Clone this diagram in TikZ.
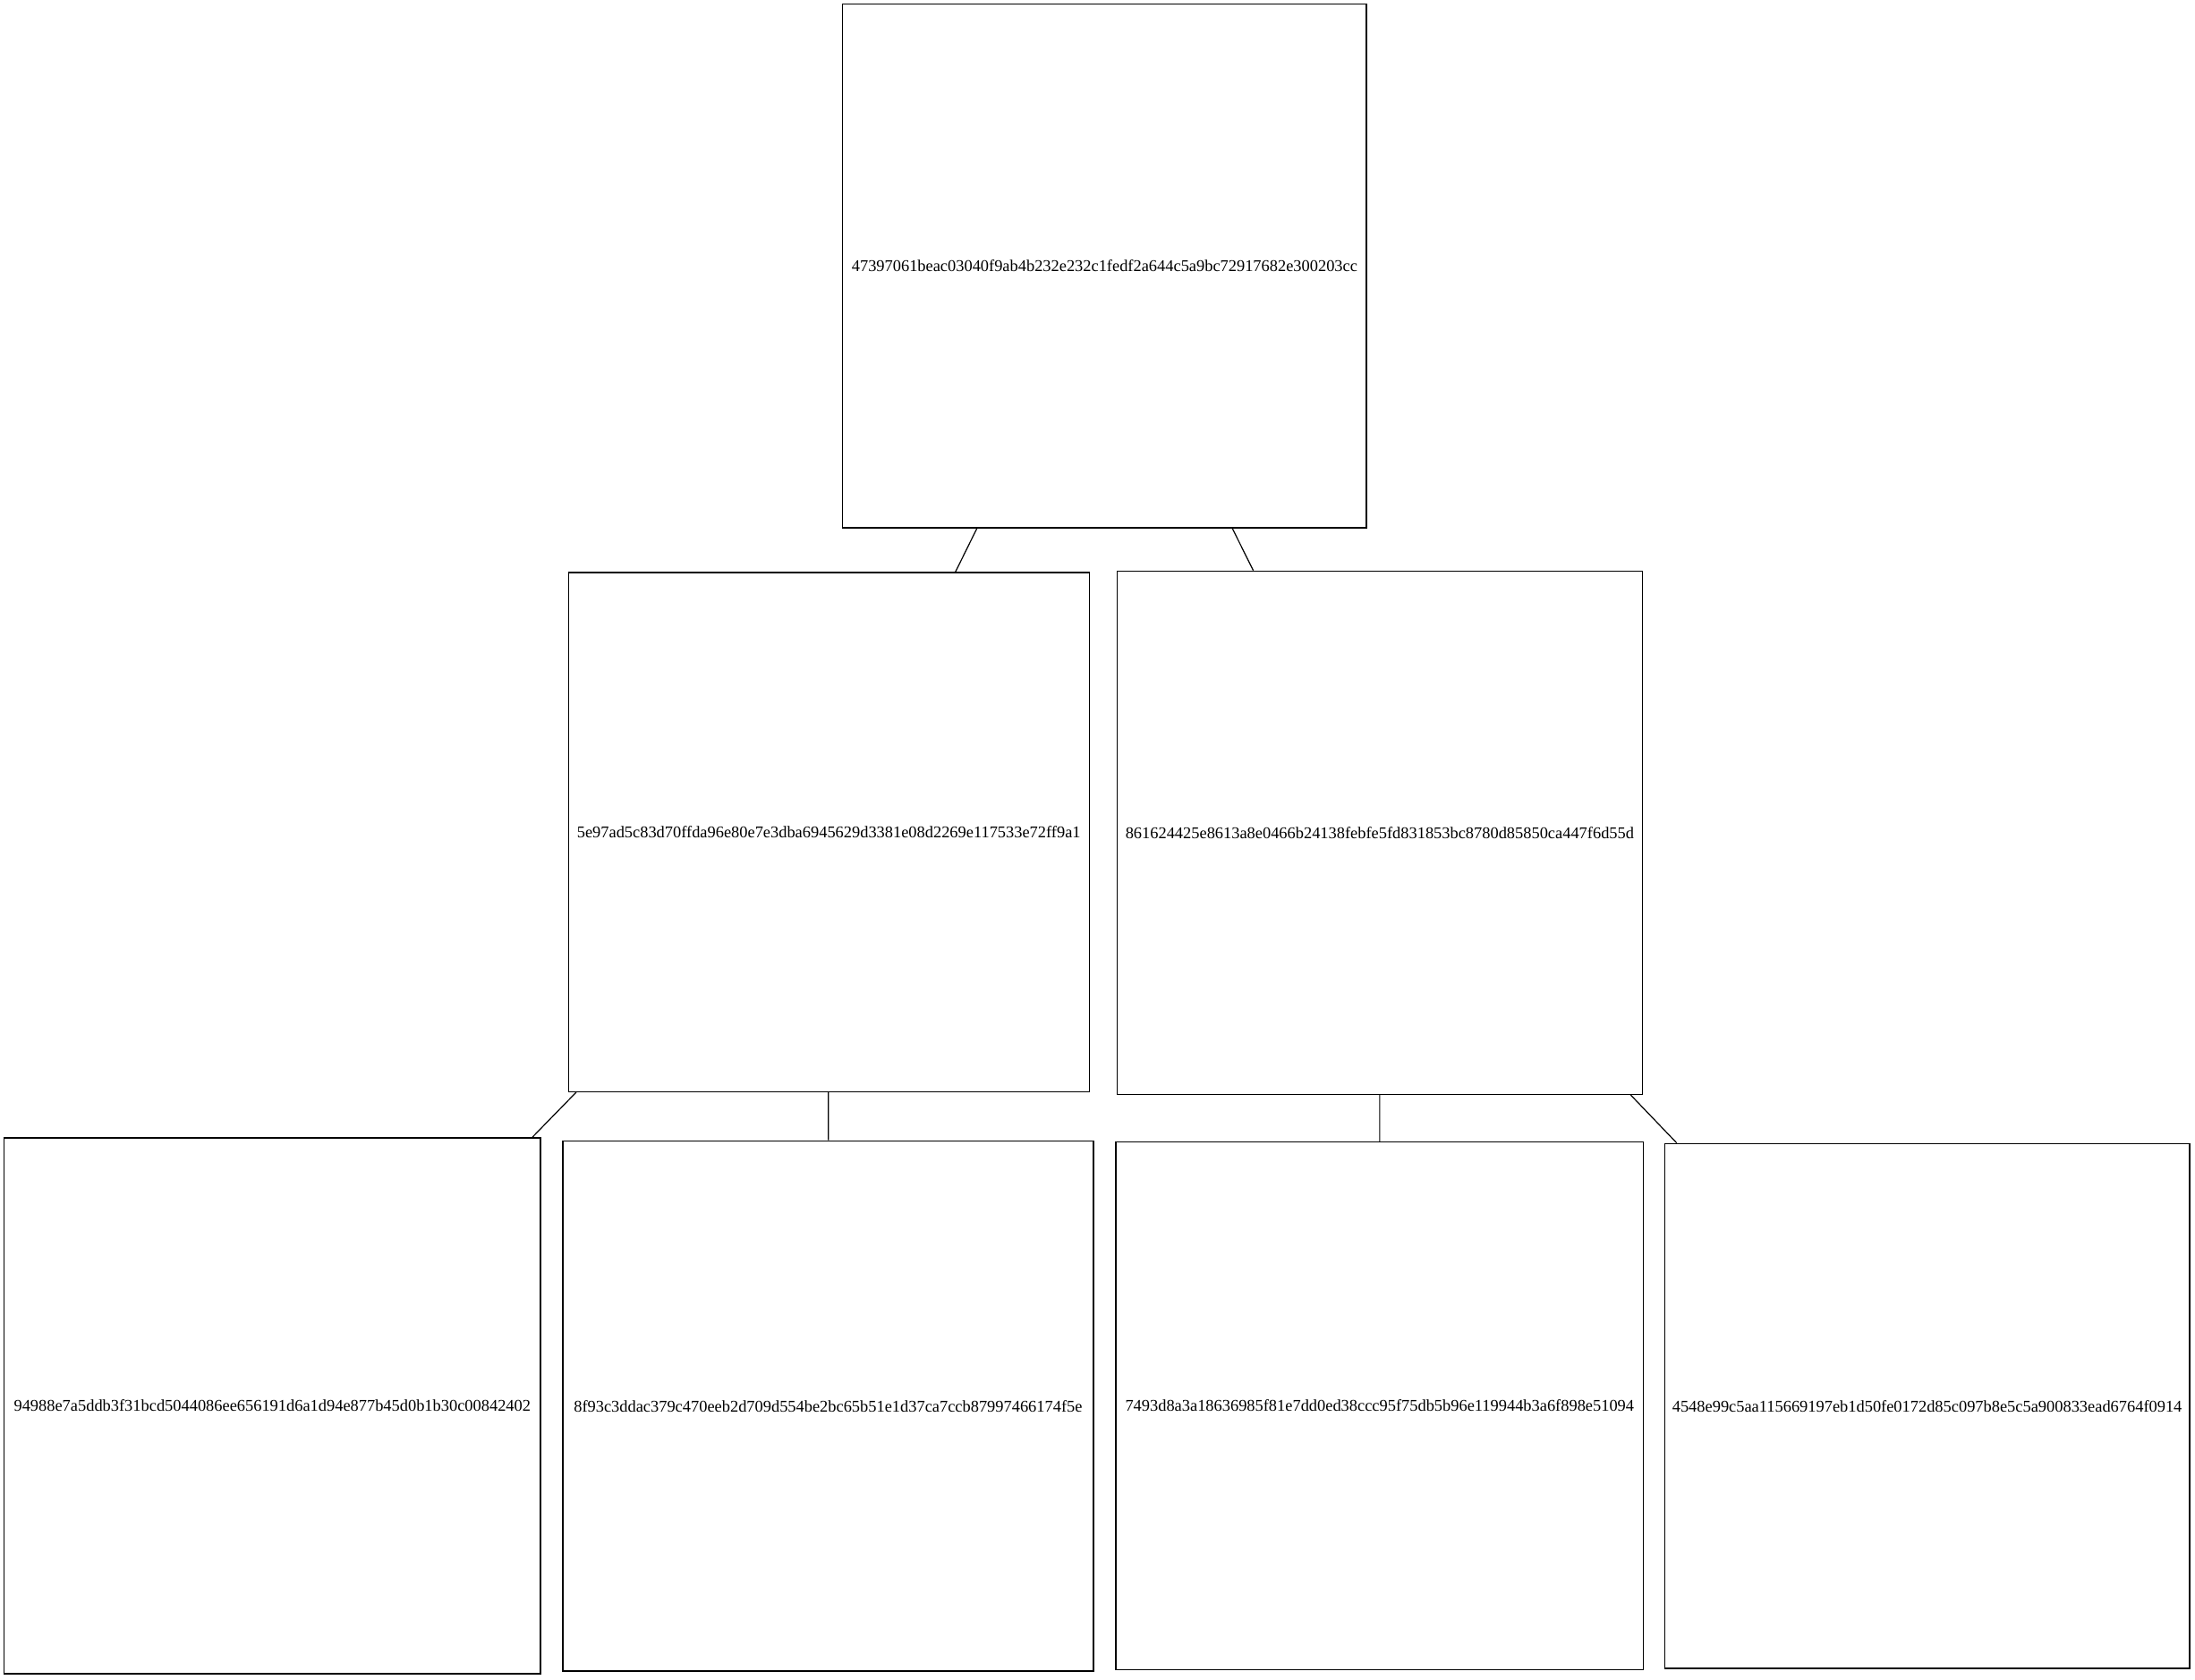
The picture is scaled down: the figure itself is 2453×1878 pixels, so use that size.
\documentclass[tikz,border=0pt]{standalone}
\usepackage{fontspec}
\setmainfont{Liberation Serif}
\begin{document}
\begin{tikzpicture}[x=0.75pt,y=-0.75pt,
  hashbox/.style 2 args={draw, line width=1pt, fill=white, inner sep=0pt,
    minimum width=#1*0.75pt, minimum height=#2*0.75pt,
    font=\fontsize{13.8}{16}\selectfont},
  link/.style={line width=0.9pt}]
\useasboundingbox[fill=white] (0,0) rectangle (2453,1878);
% tree of hashes
\node[hashbox={585.2}{585.1}] (root) at (1234.4,297.3) {47397061beac03040f9ab4b232e232c1fedf2a644c5a9bc72917682e300203cc};
\node[hashbox={582}{580.4}] (l) at (926.2,930.1) {5e97ad5c83d70ffda96e80e7e3dba6945629d3381e08d2269e117533e72ff9a1};
\node[hashbox={586.7}{585.1}] (r) at (1541.9,930.9) {861624425e8613a8e0466b24138febfe5fd831853bc8780d85850ca447f6d55d};
\node[hashbox={599.2}{599.2}] (ll) at (304.3,1571.5) {94988e7a5ddb3f31bcd5044086ee656191d6a1d94e877b45d0b1b30c00842402};
\node[hashbox={593}{592.9}] (lr) at (925.4,1571.6) {8f93c3ddac379c470eeb2d709d554be2bc65b51e1d37ca7ccb87997466174f5e};
\node[hashbox={589.8}{589.8}] (rl) at (1541.8,1571.5) {7493d8a3a18636985f81e7dd0ed38ccc95f75db5b96e119944b3a6f898e51094};
\node[hashbox={586.7}{586.7}] (rr) at (2153.6,1571.6) {4548e99c5aa115669197eb1d50fe0172d85c097b8e5c5a900833ead6764f0914};
% parent-child links
\draw[link] (root) -- (l);
\draw[link] (root) -- (r);
\draw[link] (l) -- (ll);
\draw[link] (l) -- (lr);
\draw[link] (r) -- (rl);
\draw[link] (r) -- (rr);
\end{tikzpicture}
\end{document}
